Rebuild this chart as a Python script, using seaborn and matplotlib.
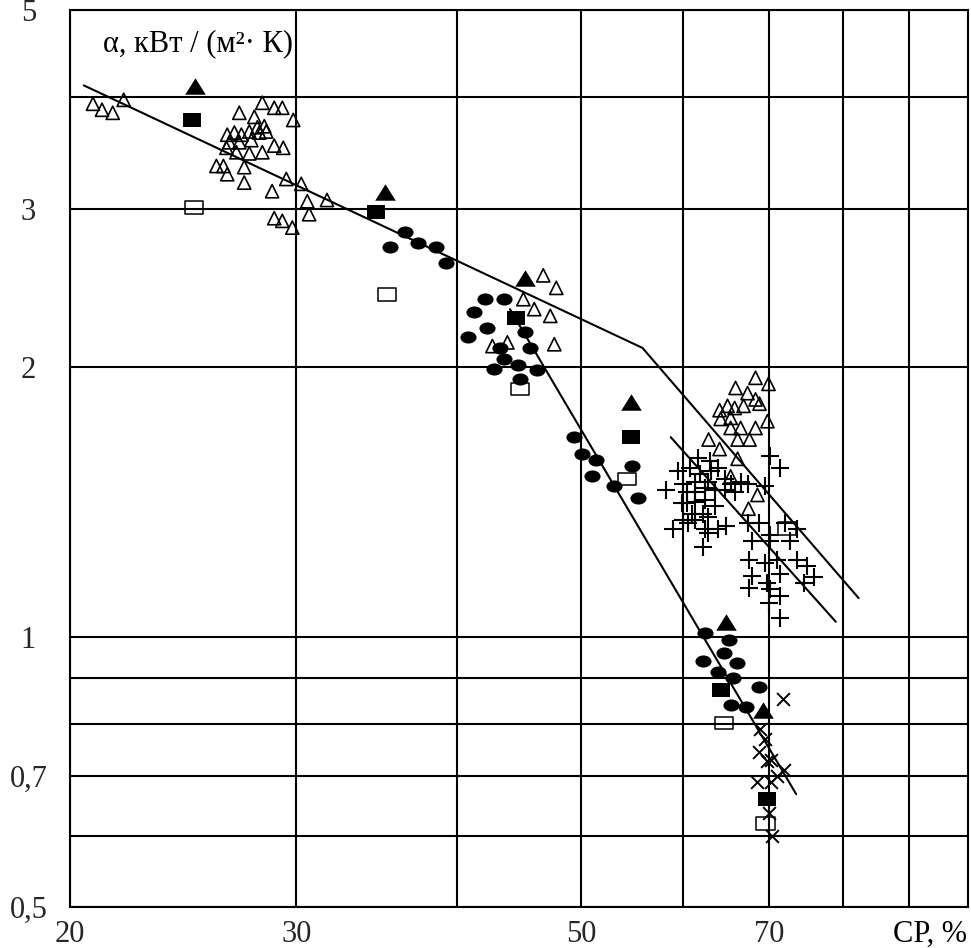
import matplotlib
matplotlib.use("Agg")
import numpy as np
import pandas as pd
import matplotlib.pyplot as plt
import seaborn as sns
from matplotlib.path import Path
from matplotlib.transforms import Affine2D
from matplotlib.ticker import NullFormatter

# open triangles
tri_open_x = [20.84, 21.18, 21.59, 22.02, 27.09, 28.23, 28.84, 29.26, 29.84, 27.83,
              26.51, 26.85, 27.19, 27.58, 27.98, 28.33, 26.61, 27.09, 27.68, 28.08,
              28.43, 26.47, 26.95, 27.58, 28.23, 28.84, 29.31, 26.00, 26.33, 26.51,
              27.33, 27.33, 29.47, 30.27, 28.73, 30.60, 30.70, 28.84, 29.26, 29.79,
              31.70,
              46.71, 47.81, 45.07, 45.96, 47.30, 42.64, 43.80, 47.64,
              68.33, 69.94, 65.93, 67.36, 68.33, 68.82, 64.07, 64.99, 65.82, 66.88,
              64.19, 65.35, 69.81, 68.33, 62.82, 64.07, 65.35, 66.53, 66.17, 67.60,
              66.17, 65.35, 67.48, 68.57]
tri_open_y = [3.93, 3.87, 3.84, 3.97, 3.84, 3.94, 3.89, 3.89, 3.77, 3.80,
              3.63, 3.65, 3.63, 3.66, 3.70, 3.71, 3.56, 3.56, 3.58, 3.65,
              3.66, 3.51, 3.47, 3.46, 3.47, 3.53, 3.51, 3.35, 3.35, 3.28,
              3.34, 3.21, 3.24, 3.20, 3.14, 3.06, 2.96, 2.93, 2.91, 2.86,
              3.07,
              2.53, 2.45, 2.38, 2.32, 2.28, 2.11, 2.13, 2.12,
              1.945, 1.915, 1.895, 1.87, 1.84, 1.82, 1.79, 1.81, 1.80, 1.81,
              1.75, 1.755, 1.74, 1.71, 1.66, 1.62, 1.71, 1.71, 1.66, 1.66,
              1.58, 1.51, 1.39, 1.44]

# filled triangles
tri_fill_x = [25.0, 35.17, 45.23, 54.66, 64.76, 69.31]
tri_fill_y = [4.11, 3.13, 2.51, 1.83, 1.04, 0.83]

# filled squares
sq_fill_x = [24.91, 34.6, 44.5, 54.66, 64.19, 69.69]
sq_fill_y = [3.77, 2.98, 2.27, 1.67, 0.872, 0.66]

# open squares
sq_open_x = [24.96, 35.30, 44.83, 54.27, 64.53, 69.56, 72.35]
sq_open_y = [3.01, 2.41, 1.89, 1.50, 0.802, 0.620, 1.32]

# filled circles
circ_x = [36.44, 35.48, 37.29, 38.52, 39.21, 42.11, 43.57, 41.22, 42.26, 40.85,
          45.23, 43.26, 45.64, 43.57, 42.80, 44.67, 46.21, 44.83,
          49.38, 50.08, 51.34, 50.98, 53.02, 54.76, 55.35,
          62.38, 65.11, 64.53, 62.16, 66.05, 63.84, 65.58, 68.70, 65.35, 67.12]
circ_y = [2.83, 2.72, 2.75, 2.72, 2.61, 2.38, 2.38, 2.30, 2.21, 2.16,
          2.19, 2.10, 2.10, 2.04, 1.99, 2.01, 1.985, 1.94,
          1.67, 1.60, 1.575, 1.51, 1.475, 1.55, 1.43,
          1.01, 0.993, 0.96, 0.94, 0.935, 0.915, 0.90, 0.88, 0.84, 0.835]

# plus markers
plus_x = [61.60, 62.93, 60.73, 63.05, 63.84, 61.82, 59.99, 61.27, 62.71, 64.64,
          65.35, 60.43, 61.27, 62.38, 63.50, 64.64, 65.82, 67.36, 60.43, 61.27,
          62.38, 63.50, 60.94, 62.16, 59.99, 61.27, 62.71, 58.91, 60.51, 62.71,
          64.76, 62.16, 70.18, 71.44, 69.44, 67.36, 68.82, 70.18, 72.09, 73.65,
          67.96, 70.18, 72.74, 67.48, 69.44, 71.06, 73.65, 74.98, 75.92, 67.96,
          69.81, 71.44, 74.58, 67.48, 70.18, 71.44, 70.06, 71.44,
          59.88, 63.84, 62.38, 66.53, 59.44, 58.2]
plus_y = [1.585, 1.57, 1.545, 1.53, 1.545, 1.52, 1.48, 1.49, 1.49, 1.50,
          1.48, 1.45, 1.45, 1.465, 1.46, 1.46, 1.45, 1.48, 1.41, 1.415,
          1.42, 1.40, 1.37, 1.37, 1.35, 1.35, 1.36, 1.32, 1.34, 1.305,
          1.33, 1.26, 1.59, 1.545, 1.475, 1.34, 1.34, 1.30, 1.34, 1.32,
          1.28, 1.28, 1.28, 1.22, 1.21, 1.22, 1.22, 1.20, 1.165, 1.17,
          1.15, 1.175, 1.15, 1.135, 1.13, 1.11, 1.09, 1.05,
          1.41, 1.32, 1.32, 1.49, 1.53, 1.46]

# cross markers
cross_x = [71.83, 68.94, 69.56, 68.82, 70.31, 69.69, 71.96, 71.06, 68.57, 70.31, 70.06, 70.44]
cross_y = [0.852, 0.79, 0.77, 0.744, 0.73, 0.727, 0.71, 0.70, 0.69, 0.69, 0.636, 0.60]

# trend lines
line1_x = [20.5, 55.8, 82.2]
line1_y = [4.12, 2.10, 1.105]
line2_x = [44.0, 73.5]
line2_y = [2.32, 0.668]
line3_x = [58.7, 78.9]
line3_y = [1.67, 1.04]

y_label_vals = [5, 3, 2, 1, 0.7, 0.5]
y_labels = ["5", "3", "2", "1", "0,7", "0,5"]
y_grid = [0.6, 0.7, 0.8, 0.9, 1, 2, 3, 4]
x_label_vals = [20, 30, 50, 70]
x_labels = ["20", "30", "50", "70"]
x_grid = [30, 40, 50, 60, 70, 80, 90]
x_tick_marks = [30, 40, 50, 60]

sns.set_theme(style="white")
plt.rcParams["font.family"] = ["Liberation Serif", "DejaVu Serif"]

# wide ellipse / rectangle markers like in the scan
ellipse = Path.unit_circle().transformed(Affine2D().scale(1, 0.75))
rect_f = Path([(-1, -0.78), (1, -0.78), (1, 0.78), (-1, 0.78), (-1, -0.78)],
              [Path.MOVETO, Path.LINETO, Path.LINETO, Path.LINETO, Path.CLOSEPOLY])
rect_o = Path([(-1, -0.7), (1, -0.7), (1, 0.7), (-1, 0.7), (-1, -0.7)],
              [Path.MOVETO, Path.LINETO, Path.LINETO, Path.LINETO, Path.CLOSEPOLY])
tri_f = Path([(-1, -0.8), (1, -0.8), (0, 0.8), (-1, -0.8)],
             [Path.MOVETO, Path.LINETO, Path.LINETO, Path.CLOSEPOLY])

fig = plt.figure(figsize=(9.71, 9.48), dpi=100)
ax = fig.add_axes([0.0721, 0.0432, 0.9248, 0.9463])
ax.set_xscale("log")
ax.set_yscale("log")

for lx, ly in [(line1_x, line1_y), (line2_x, line2_y), (line3_x, line3_y)]:
    sns.lineplot(x=lx, y=ly, sort=False, estimator=None, color="black", lw=1.5, ax=ax, zorder=3)

sns.scatterplot(x=tri_open_x, y=tri_open_y, marker="^", s=90, color="black",
                facecolor="none", edgecolor="black", linewidth=1.2, ax=ax, zorder=4)
sns.scatterplot(x=plus_x, y=plus_y, marker="+", s=180, color="black", linewidth=1.5, ax=ax, zorder=4)
sns.scatterplot(x=cross_x, y=cross_y, marker="x", s=85, color="black", linewidth=1.4, ax=ax, zorder=4)
sns.scatterplot(x=circ_x, y=circ_y, marker=ellipse, s=135, color="black",
                edgecolor="black", linewidth=0, ax=ax, zorder=5)
sns.scatterplot(x=sq_open_x, y=sq_open_y, marker=rect_o, s=170, color="black",
                facecolor="none", edgecolor="black", linewidth=1.1, ax=ax, zorder=5)
sns.scatterplot(x=sq_fill_x, y=sq_fill_y, marker=rect_f, s=185, color="black",
                edgecolor="black", linewidth=0, ax=ax, zorder=5)
sns.scatterplot(x=tri_fill_x, y=tri_fill_y, marker=tri_f, s=220, color="black",
                edgecolor="black", linewidth=0, ax=ax, zorder=5)

ax.set_xlim(20, 100)
ax.set_ylim(0.5, 5)

ax.set_yticks(y_label_vals, labels=y_labels)
ax.set_yticks(y_grid, minor=True)
ax.yaxis.set_minor_formatter(NullFormatter())
ax.set_xticks(x_label_vals, labels=x_labels)
ax.set_xticks(x_grid, minor=True)
ax.xaxis.set_minor_formatter(NullFormatter())

ax.grid(True, which="both", color="black", lw=1.5)
ax.tick_params(axis="y", which="both", length=0)
ax.tick_params(axis="y", which="major", labelsize=22, pad=30)
for lab in ax.get_yticklabels():
    lab.set_horizontalalignment("center")
ax.tick_params(axis="x", which="both", length=9, width=1.5, color="black", direction="out")
ax.tick_params(axis="x", which="major", labelsize=22, pad=0)
for val, t in zip(ax.xaxis.get_majorticklocs(), ax.xaxis.get_major_ticks()):
    if val not in x_tick_marks:
        t.tick1line.set_visible(False)
for val, t in zip(ax.xaxis.get_minorticklocs(), ax.xaxis.get_minor_ticks()):
    if val not in x_tick_marks:
        t.tick1line.set_visible(False)

for sp in ax.spines.values():
    sp.set_color("black")
    sp.set_linewidth(1.5)

ax.text(0.037, 0.962, "α, кВт / (м²· К)", transform=ax.transAxes, ha="left", va="center",
        fontsize=22, color="black")
ax.text(0.958, -0.030, "СР, %", transform=ax.transAxes, ha="center", va="center",
        fontsize=22, color="black")
ax.set_xlabel("")
ax.set_ylabel("")

fig.savefig("out.png", dpi=100)
